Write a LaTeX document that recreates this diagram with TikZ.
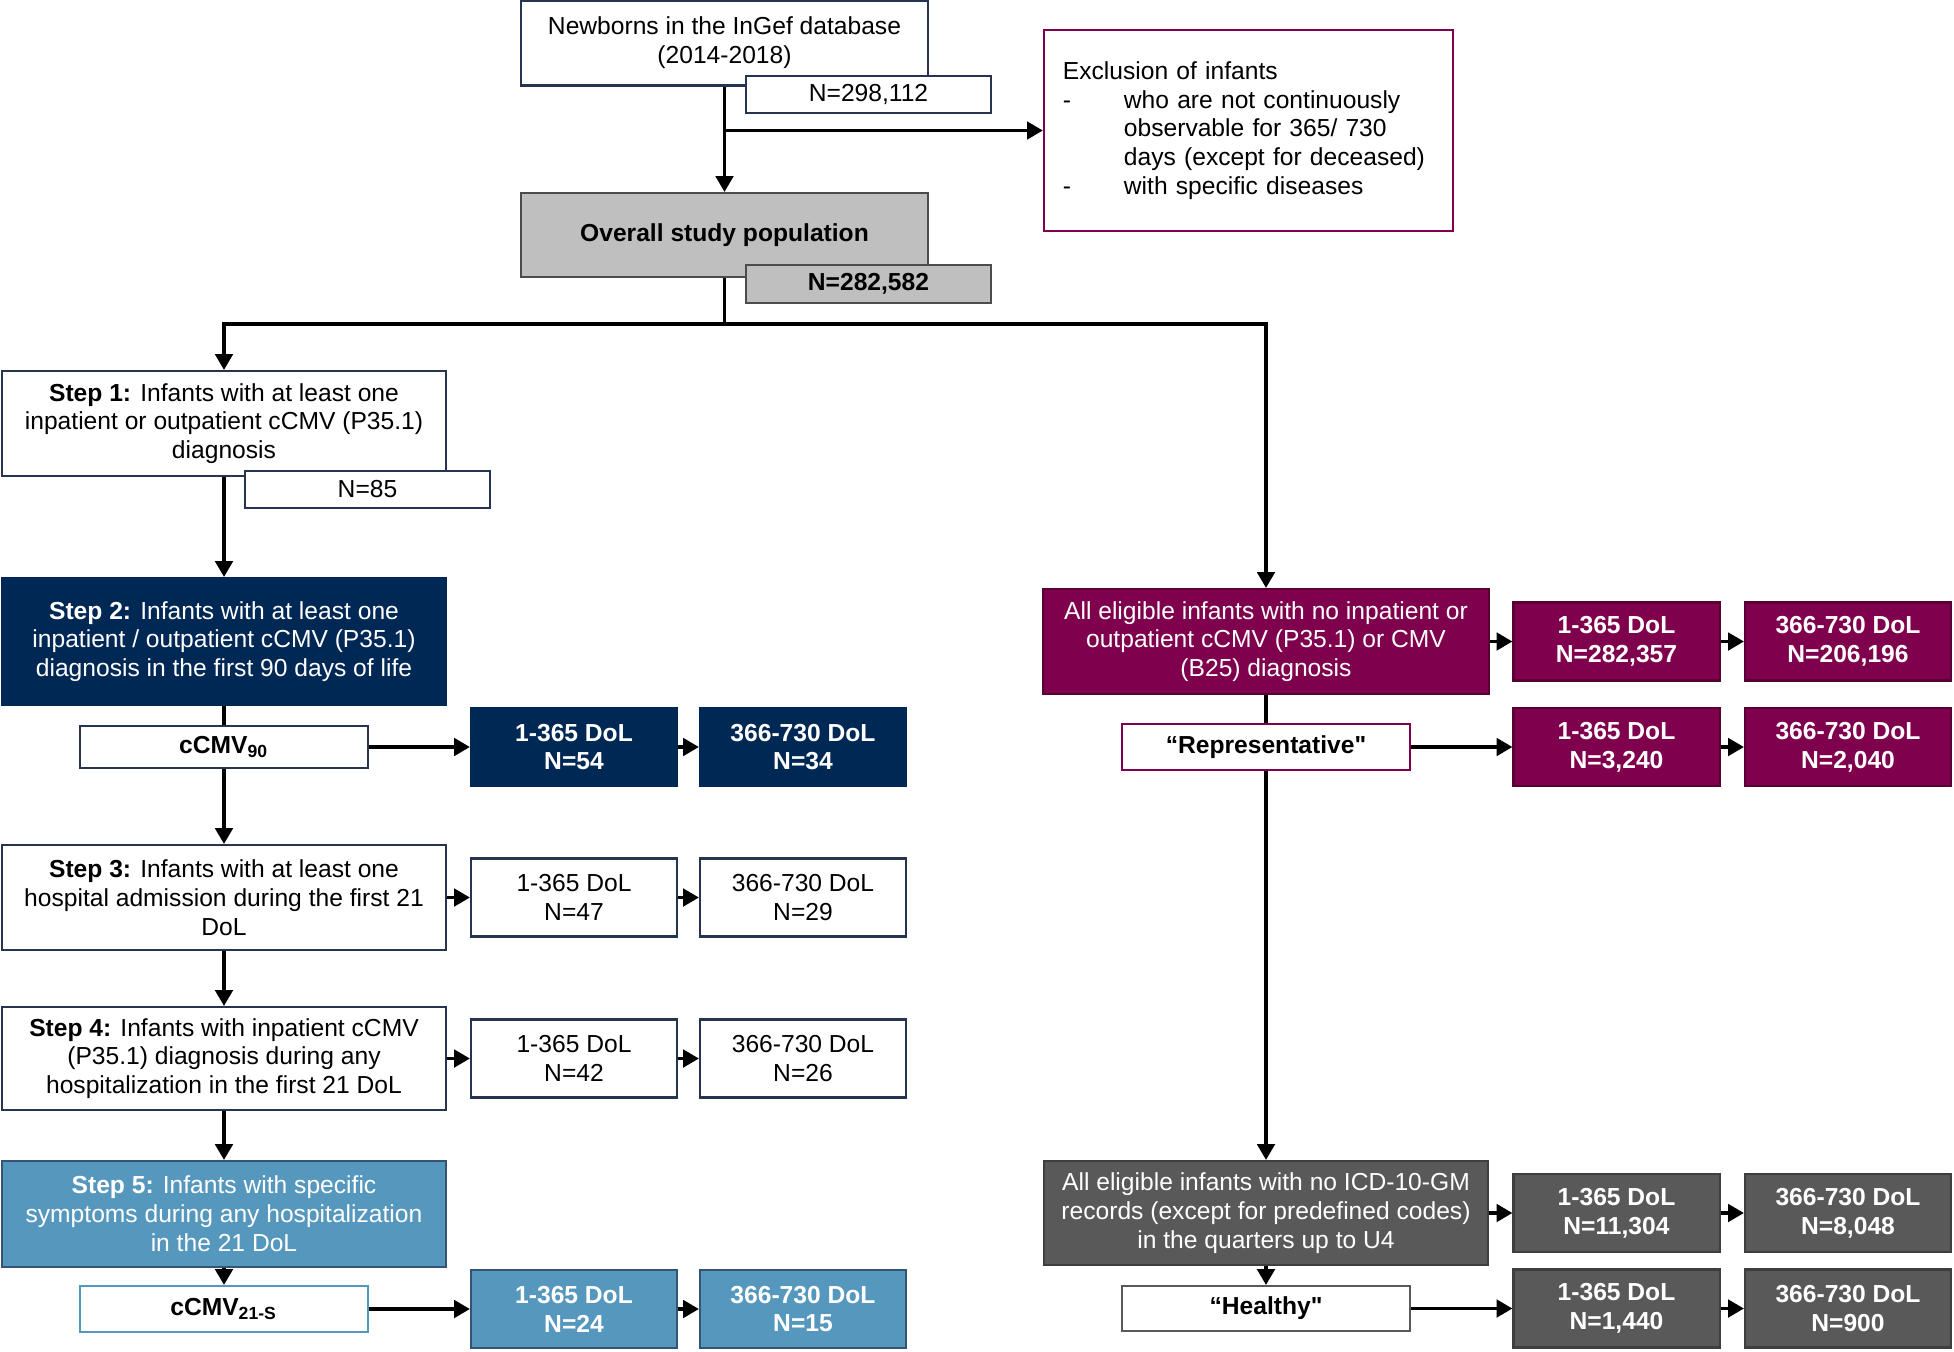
\documentclass[tikz,border=0pt]{standalone}
\usepackage{fontspec}
\setmainfont{Liberation Sans}
\usetikzlibrary{arrows.meta}
\definecolor{myNavy}{RGB}{0,40,85}
\definecolor{myBlue}{RGB}{86,152,189}
\definecolor{myPurple}{RGB}{127,0,76}
\definecolor{myDGray}{RGB}{89,89,89}
\definecolor{myLGray}{RGB}{191,191,191}
\definecolor{myFrame}{RGB}{38,52,79}
\newcommand{\smallfont}{\fontsize{7}{8.2}\selectfont}

\tikzset{
  box/.style={draw=myFrame, line width=0.6pt, fill=white, align=center, inner sep=1pt},
  navybox/.style={box, fill=myNavy, draw=myNavy},
  bluebox/.style={box, fill=myBlue, draw=myNavy!80},
  purbox/.style={box, fill=myPurple, draw=myPurple!70!black},
  dgraybox/.style={box, fill=myDGray, draw=myDGray!70!black},
  lgraybox/.style={box, fill=myLGray, draw=black!70},
  stepbox/.style={minimum width=4.44cm, minimum height=1.05cm},
  nbox/.style={minimum width=2.45cm, minimum height=0.37cm},
  dolbox/.style={minimum width=2.06cm, minimum height=0.78cm},
  grpbox/.style={minimum width=2.87cm, minimum height=0.44cm, font=\smallfont\bfseries},
  arr/.style={line width=0.9pt, -{Triangle[length=4.5pt,width=5pt]}},
  lin/.style={line width=0.9pt}
}

\begin{document}
\begin{tikzpicture}[x=0.01cm, y=-0.01cm, font=\smallfont]
  \useasboundingbox (0,0) rectangle (1954,1351);
  % Datenbasis
  \node[box, minimum width=4.07cm, minimum height=0.85cm] (newb) at (724.5,43) {Newborns in the InGef database\\(2014-2018)};
  \node[box, nbox] (n1) at (868.5,94.5) {N=298,112};
  \node[box, draw=myPurple, minimum width=4.09cm, minimum height=2.01cm, text width=3.71cm, inner xsep=0.19cm, align=left] (excl) at (1248.5,130.5)
    {Exclusion of infants\\
     \makebox[0.61cm][l]{-}who are not continuously\\
     \hspace*{0.61cm}observable for 365/ 730\\
     \hspace*{0.61cm}days (except for deceased)\\
     \makebox[0.61cm][l]{-}with specific diseases};
  \node[lgraybox, minimum width=4.07cm, minimum height=0.84cm, font=\smallfont\bfseries] (pop) at (724.5,235) {Overall study population};
  \node[lgraybox, nbox, minimum height=0.38cm, font=\smallfont\bfseries] (n2) at (868.5,284) {N=282,582};
  \coordinate (split) at (724.5,324);
  % linke Spalte
  \node[box, stepbox] (s1) at (224,423.5) {\textbf{Step 1:} Infants with at least one\\inpatient or outpatient cCMV (P35.1)\\diagnosis};
  \node[box, nbox] (n3) at (367.5,489.5) {N=85};
  \node[navybox, stepbox, minimum height=1.27cm, text=white] (s2) at (224,641.5) {\textbf{Step 2:} Infants with at least one\\inpatient / outpatient cCMV (P35.1)\\diagnosis in the first 90 days of life};
  \node[box, grpbox, minimum height=0.42cm] (c90) at (224,747) {cCMV\textsubscript{90}};
  \node[box, stepbox] (s3) at (224,897.5) {\textbf{Step 3:} Infants with at least one\\hospital admission during the first 21\\DoL};
  \node[box, stepbox, minimum height=1.03cm] (s4) at (224,1058.5) {\textbf{Step 4:} Infants with inpatient cCMV\\(P35.1) diagnosis during any\\hospitalization in the first 21 DoL};
  \node[bluebox, stepbox, minimum height=1.06cm, text=white] (s5) at (224,1214) {\textbf{Step 5:} Infants with specific\\symptoms during any hospitalization\\in the 21 DoL};
  \node[box, draw=myBlue, grpbox, minimum height=0.46cm] (c21) at (224,1309) {cCMV\textsubscript{21-S}};
  % rechte Spalte
  \node[purbox, minimum width=4.45cm, minimum height=1.05cm, text=white] (pur) at (1266,641.5) {All eligible infants with no inpatient or\\outpatient cCMV (P35.1) or CMV\\(B25) diagnosis};
  \node[box, draw=myPurple, grpbox, minimum width=2.88cm, minimum height=0.46cm] (rep) at (1266,747) {“Representative\textquotedbl};
  \node[dgraybox, minimum width=4.43cm, minimum height=1.04cm, text=white] (gry) at (1266,1213) {All eligible infants with no ICD-10-GM\\records (except for predefined codes)\\in the quarters up to U4};
  \node[box, draw=myDGray, grpbox, minimum width=2.88cm, minimum height=0.45cm] (hea) at (1266,1308.5) {“Healthy\textquotedbl};
  % DoL Kaesten
  \foreach \src/\nm/\xa/\xb/\y/\st/\tc/\fw/\na/\nb in {
      c90/a/574/803/747/navybox/white/b/54/34,
      s3/b/574/803/897.5/box/black/m/47/29,
      s4/c/574/803/1058.5/box/black/m/42/26,
      c21/d/574/803/1309/bluebox/white/b/24/15,
      pur/e/1616.5/1848/641.5/purbox/white/b/{282,357}/{206,196},
      rep/f/1616.5/1848/747/purbox/white/b/{3,240}/{2,040},
      gry/g/1616.5/1848/1213/dgraybox/white/b/{11,304}/{8,048},
      hea/h/1616.5/1848/1308.5/dgraybox/white/b/{1,440}/900} {
    \node[\st, dolbox, text=\tc, font=\smallfont\fontseries{\fw}\selectfont] (\nm1) at (\xa,\y) {1-365 DoL\\N=\na};
    \node[\st, dolbox, text=\tc, font=\smallfont\fontseries{\fw}\selectfont] (\nm2) at (\xb,\y) {366-730 DoL\\N=\nb};
    \draw[arr] (\src) -- (\nm1);
    \draw[arr] (\nm1) -- (\nm2);
  }
  % Pfeile
  \draw[arr] (newb) -- (pop);
  \draw[arr] (newb.south |- excl.west) -- (excl.west);
  \draw[lin] (pop) -- (split);
  \draw[arr] (split) -| (s1);
  \draw[arr] (split) -| (pur);
  \draw[arr] (s1) -- (s2);
  \draw[lin] (s2) -- (c90);
  \draw[arr] (c90) -- (s3);
  \draw[arr] (s3) -- (s4);
  \draw[arr] (s4) -- (s5);
  \draw[arr] (s5) -- (c21);
  \draw[lin] (pur) -- (rep);
  \draw[arr] (rep) -- (gry);
  \draw[arr] (gry) -- (hea);
\end{tikzpicture}
\end{document}
